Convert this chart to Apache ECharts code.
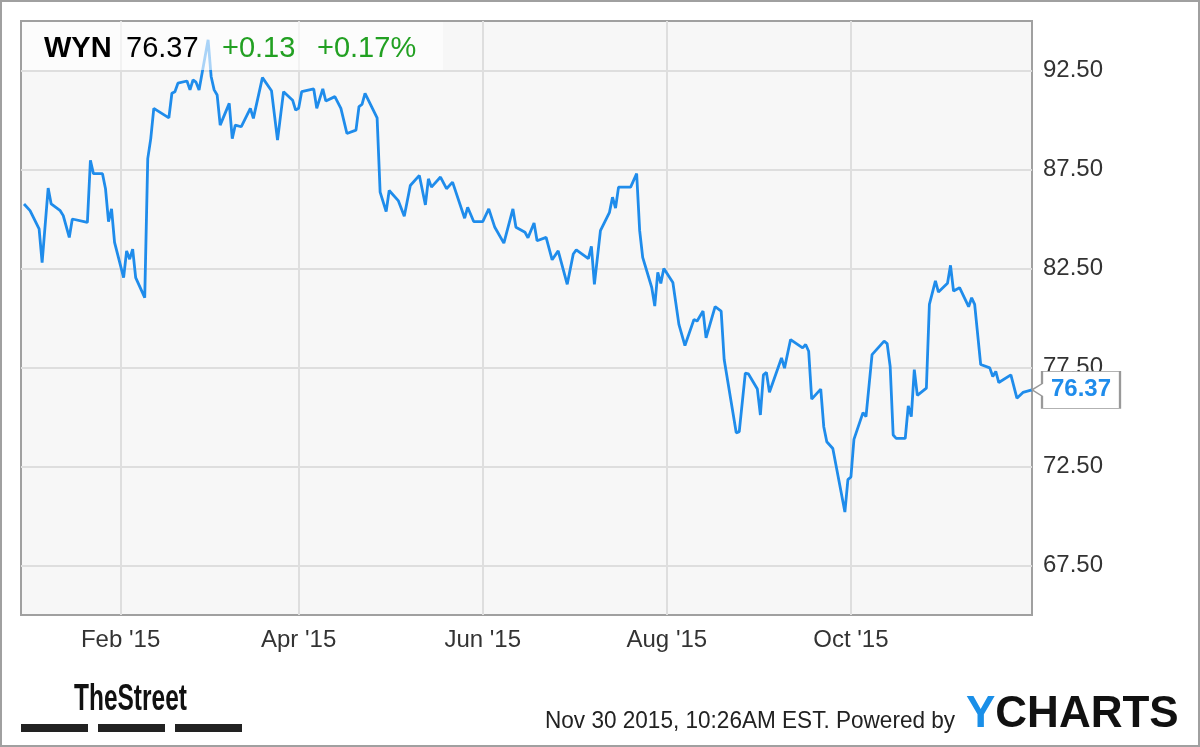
<!DOCTYPE html>
<html><head><meta charset="utf-8">
<script src="https://cdn.jsdelivr.net/npm/echarts@6/dist/echarts.min.js"></script>
<style>html,body{margin:0;padding:0;background:#fff}#c{width:1200px;height:747px}</style>
</head><body><div id="c"></div>
<script>
const dates = ['2014-12-31','2015-01-02','2015-01-05','2015-01-06','2015-01-08','2015-01-09','2015-01-12','2015-01-13','2015-01-15','2015-01-16','2015-01-21','2015-01-22','2015-01-23','2015-01-26','2015-01-27','2015-01-28','2015-01-29','2015-01-30','2015-02-02','2015-02-03','2015-02-04','2015-02-05','2015-02-06','2015-02-09','2015-02-10','2015-02-11','2015-02-12','2015-02-17','2015-02-18','2015-02-19','2015-02-20','2015-02-23','2015-02-24','2015-02-25','2015-02-26','2015-02-27','2015-03-02','2015-03-03','2015-03-04','2015-03-05','2015-03-06','2015-03-09','2015-03-10','2015-03-11','2015-03-13','2015-03-16','2015-03-17','2015-03-20','2015-03-23','2015-03-25','2015-03-27','2015-03-30','2015-03-31','2015-04-01','2015-04-02','2015-04-06','2015-04-07','2015-04-09','2015-04-10','2015-04-13','2015-04-15','2015-04-17','2015-04-20','2015-04-21','2015-04-22','2015-04-23','2015-04-27','2015-04-28','2015-04-30','2015-05-01','2015-05-04','2015-05-06','2015-05-08','2015-05-11','2015-05-13','2015-05-14','2015-05-15','2015-05-18','2015-05-20','2015-05-22','2015-05-26','2015-05-27','2015-05-29','2015-06-01','2015-06-03','2015-06-05','2015-06-08','2015-06-11','2015-06-12','2015-06-15','2015-06-16','2015-06-18','2015-06-19','2015-06-22','2015-06-24','2015-06-26','2015-06-29','2015-07-01','2015-07-02','2015-07-06','2015-07-07','2015-07-08','2015-07-10','2015-07-13','2015-07-14','2015-07-15','2015-07-16','2015-07-20','2015-07-22','2015-07-23','2015-07-24','2015-07-27','2015-07-28','2015-07-29','2015-07-30','2015-07-31','2015-08-03','2015-08-05','2015-08-07','2015-08-10','2015-08-11','2015-08-13','2015-08-14','2015-08-17','2015-08-19','2015-08-20','2015-08-24','2015-08-25','2015-08-27','2015-08-28','2015-08-31','2015-09-01','2015-09-02','2015-09-03','2015-09-04','2015-09-08','2015-09-09','2015-09-11','2015-09-15','2015-09-16','2015-09-17','2015-09-18','2015-09-21','2015-09-22','2015-09-23','2015-09-25','2015-09-29','2015-09-30','2015-10-01','2015-10-02','2015-10-05','2015-10-06','2015-10-08','2015-10-12','2015-10-13','2015-10-14','2015-10-15','2015-10-16','2015-10-19','2015-10-20','2015-10-21','2015-10-22','2015-10-23','2015-10-26','2015-10-27','2015-10-29','2015-10-30','2015-11-02','2015-11-03','2015-11-04','2015-11-06','2015-11-09','2015-11-10','2015-11-11','2015-11-13','2015-11-16','2015-11-17','2015-11-18','2015-11-19','2015-11-23','2015-11-25','2015-11-27','2015-11-30'];
const prices = [85.76,85.42,84.5,82.8,86.56,85.76,85.42,85.17,84.07,85.0,84.83,87.96,87.29,87.29,86.53,84.87,85.51,83.82,82.04,83.39,82.97,83.48,82.04,81.03,88.05,89.06,90.59,90.11,91.35,91.43,91.86,91.97,91.52,92.02,91.91,91.52,94.05,92.2,91.52,91.26,89.74,90.84,89.06,89.74,89.66,90.59,90.08,92.14,91.48,88.98,91.43,91.0,90.5,90.59,91.43,91.57,90.59,91.57,90.96,91.18,90.59,89.32,89.49,90.68,90.79,91.35,90.11,86.36,85.37,86.44,85.93,85.14,86.69,87.2,85.71,87.03,86.61,87.12,86.53,86.86,85.04,85.59,84.87,84.87,85.51,84.58,83.78,85.51,84.58,84.33,84.05,84.8,83.9,84.07,82.94,83.39,81.7,83.23,83.44,83.0,83.62,81.7,84.41,85.34,86.1,85.55,86.61,86.61,87.29,84.41,83.06,81.54,80.6,82.3,81.75,82.5,81.79,79.68,78.61,79.93,79.84,80.35,79.0,80.57,80.35,77.9,74.2,74.26,77.22,77.18,76.41,75.1,77.13,77.25,76.25,77.98,77.47,78.91,78.49,78.66,78.32,75.9,76.41,74.51,73.75,73.41,70.2,71.84,71.97,73.87,75.22,75.02,78.15,78.83,78.71,77.56,74.09,73.92,73.92,75.56,75.02,77.39,76.09,76.46,80.69,81.87,81.31,81.75,82.66,81.36,81.53,80.57,81.02,80.69,77.65,77.48,77.05,77.3,76.74,77.13,75.95,76.24,76.37];
const yTicks = [67.5, 72.5, 77.5, 82.5, 87.5, 92.5];
const xTickDates = ['2015-02-01','2015-04-01','2015-06-01','2015-08-01','2015-10-01'];
const xTickLabels = ["Feb '15","Apr '15","Jun '15","Aug '15","Oct '15"];
const xRange = ['2014-12-30','2015-11-30'];
const yRange = [65, 95];
const ticker = 'WYN', lastPrice = '76.37', change = '+0.13', changePct = '+0.17%';
const stamp = 'Nov 30 2015, 10:26AM EST. Powered by';

const ts = s => { const p = s.split('-').map(Number); return Date.UTC(p[0], p[1]-1, p[2]); };
const xTickTs = xTickDates.map(ts);
const seriesData = dates.map((d, i) => [ts(d), prices[i]]);
const last = seriesData[seriesData.length - 1];

const BLUE = '#1f8ceb', GREEN = '#22a022';
const FONT = "'Liberation Sans', Arial, sans-serif";

const chart = echarts.init(document.getElementById('c'), null, {renderer: 'canvas'});
chart.setOption({
  animation: false,
  grid: {left: 21, right: 168, top: 21, bottom: 132, show: true,
         backgroundColor: '#f7f7f7', borderColor: '#a0a0a0', borderWidth: 2},
  xAxis: {
    type: 'value', min: ts(xRange[0]), max: ts(xRange[1]),
    axisLine: {show: false}, axisTick: {show: false, customValues: xTickTs},
    splitLine: {show: true, lineStyle: {color: '#dedede', width: 2}},
    axisLabel: {customValues: xTickTs, margin: 13, color: '#333', fontSize: 24, fontFamily: FONT,
      formatter: v => xTickLabels[xTickTs.indexOf(+v)] || ''}
  },
  yAxis: {
    type: 'value', position: 'right', min: yRange[0], max: yRange[1],
    axisLine: {show: false}, axisTick: {show: false, customValues: yTicks},
    splitLine: {show: true, lineStyle: {color: '#dedede', width: 2}},
    axisLabel: {customValues: yTicks, margin: 11, color: '#333', fontSize: 24, fontFamily: FONT,
      formatter: v => Number(v).toFixed(2)}
  },
  series: [{
    type: 'line', data: seriesData, symbol: 'none', z: 3,
    lineStyle: {color: BLUE, width: 2.8},
    markPoint: {
      silent: true,
      symbol: 'path://M0,18 L10,12 L10,0 L88,0 L88,36 L10,36 L10,24 Z',
      symbolSize: [88, 37], symbolOffset: [44, 0], symbolKeepAspect: false,
      itemStyle: {color: '#fff', borderColor: '#999', borderWidth: 1.5},
      label: {show: true, position: 'inside', offset: [5, 0], color: BLUE, fontWeight: 'bold',
              fontSize: 24, fontFamily: FONT, formatter: lastPrice},
      data: [{coord: last, value: last[1]}]
    }
  }],
  graphic: [
    {type: 'rect', z: 100, silent: true, shape: {x: 1, y: 1, width: 1198, height: 745},
     style: {fill: 'none', stroke: '#a0a0a0', lineWidth: 2}},
    {type: 'rect', z: 50, silent: true, shape: {x: 22, y: 22, width: 421, height: 48},
     style: {fill: 'rgba(255,255,255,0.62)'}},
    {type: 'text', z: 51, x: 44, y: 49, style: {text: ticker, font: "bold 29px " + FONT, fill: '#000', verticalAlign: 'middle'}},
    {type: 'text', z: 51, x: 126, y: 49, style: {text: lastPrice, font: "29px " + FONT, fill: '#000', verticalAlign: 'middle'}},
    {type: 'text', z: 51, x: 222, y: 49, style: {text: change, font: "29px " + FONT, fill: GREEN, verticalAlign: 'middle'}},
    {type: 'text', z: 51, x: 317, y: 49, style: {text: changePct, font: "29px " + FONT, fill: GREEN, verticalAlign: 'middle'}},
    {type: 'text', z: 51, x: 74, y: 700, scaleX: 0.68, style: {text: 'TheStreet', font: "bold 36px " + FONT, fill: '#111', verticalAlign: 'middle'}},
    {type: 'rect', z: 51, shape: {x: 21, y: 724, width: 67, height: 8}, style: {fill: '#222'}},
    {type: 'rect', z: 51, shape: {x: 98, y: 724, width: 67, height: 8}, style: {fill: '#222'}},
    {type: 'rect', z: 51, shape: {x: 175, y: 724, width: 67, height: 8}, style: {fill: '#222'}},
    {type: 'text', z: 51, x: 545, y: 721, scaleX: 0.94, style: {text: stamp, font: "24px " + FONT, fill: '#222', verticalAlign: 'middle'}},
    {type: 'text', z: 51, x: 966, y: 715, style: {
      text: '{y|Y}{c|CHARTS}', verticalAlign: 'middle',
      rich: {y: {fill: '#1a8fe8', font: "bold 44px " + FONT}, c: {fill: '#111', font: "bold 44px " + FONT}}}}
  ]
});
</script></body></html>
